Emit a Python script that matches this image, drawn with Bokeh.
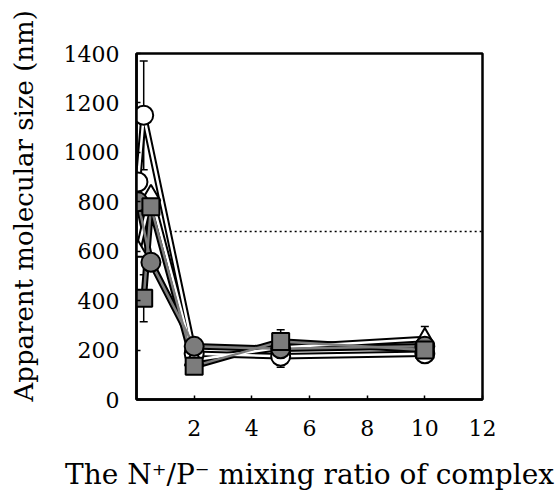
from bokeh.plotting import figure
from bokeh.models import FixedTicker, Whisker, ColumnDataSource
from bokeh.embed import file_html
from bokeh.resources import INLINE

# ---- data ----
x_open_circle = [0.05, 0.25, 2, 5, 10]
y_open_circle = [880, 1150, 185, 175, 185]
e_open_circle = [0, 220, 0, 45, 0]

x_open_tri = [0.05, 0.5, 2, 5, 10]
y_open_tri = [600, 825, 160, 210, 245]
e_open_tri = [0, 0, 0, 0, 50]

x_gray_circle = [0.05, 0.5, 2, 5, 10]
y_gray_circle = [800, 555, 215, 205, 215]
e_gray_circle = [0, 0, 0, 0, 0]

x_gray_square = [0.25, 0.5, 2, 5, 10]
y_gray_square = [410, 780, 135, 235, 200]
e_gray_square = [95, 0, 0, 47, 30]

threshold = 680
x_ticks = [2, 4, 6, 8, 10, 12]
y_ticks = [0, 200, 400, 600, 800, 1000, 1200, 1400]
x_title = "The N\u207a/P\u207b mixing ratio of complex"
y_title = "Apparent molecular size (nm)"

GRAY = "#7c7c7c"
FONT = "DejaVu Serif"

p = figure(width=558, height=493, x_range=(0, 12), y_range=(0, 1400),
           output_backend="svg", toolbar_location=None,
           min_border_left=136, min_border_right=76,
           min_border_top=53, min_border_bottom=91)
p.grid.visible = False
p.outline_line_color = "black"
p.outline_line_width = 2.5
p.background_fill_color = "white"
p.border_fill_color = "white"

for ax in (p.xaxis[0], p.yaxis[0]):
    ax.axis_line_width = 2.5
    ax.axis_line_color = "black"
    ax.major_tick_in = 4
    ax.major_tick_out = 0
    ax.major_tick_line_width = 1.5
    ax.minor_tick_line_color = None
    ax.major_label_text_font = FONT
    ax.major_label_text_font_size = "22px"
    ax.major_label_text_color = "black"
    ax.axis_label_text_font = FONT
    ax.axis_label_text_font_style = "normal"
    ax.axis_label_text_color = "black"

p.xaxis[0].axis_label_text_font_size = "28px"
p.yaxis[0].axis_label_text_font_size = "26px"
p.xaxis[0].ticker = FixedTicker(ticks=x_ticks)
p.yaxis[0].ticker = FixedTicker(ticks=y_ticks)
p.xaxis[0].major_label_standoff = 20
p.yaxis[0].major_label_standoff = 17
p.xaxis[0].axis_label = x_title
p.xaxis[0].axis_label_standoff = 19
# leading no-break spaces push the centred title upward, as in the reference
p.yaxis[0].axis_label = "\u00a0" * 5 + y_title
p.yaxis[0].axis_label_standoff = 22

# dotted threshold line
p.line([1.15, 12], [threshold, threshold], line_color="black",
       line_dash="2 3", line_width=1.5)

series = [
    (x_open_circle, y_open_circle, e_open_circle, "white", "circle"),
    (x_open_tri, y_open_tri, e_open_tri, "white", "triangle"),
    (x_gray_circle, y_gray_circle, e_gray_circle, GRAY, "circle"),
    (x_gray_square, y_gray_square, e_gray_square, GRAY, "square"),
]

# connecting lines as bordered bands
for xs, ys, es, fill, mk in series:
    p.line(xs, ys, line_color="black", line_width=6.5)
for xs, ys, es, fill, mk in series:
    p.line(xs, ys, line_color=fill, line_width=2.5)

# error bars
for xs, ys, es, fill, mk in series:
    xe = [x for x, e in zip(xs, es) if e > 0]
    ye = [y for y, e in zip(ys, es) if e > 0]
    ee = [e for e in es if e > 0]
    if xe:
        src = ColumnDataSource(dict(x=xe, lo=[y - e for y, e in zip(ye, ee)],
                                    hi=[y + e for y, e in zip(ye, ee)]))
        w = Whisker(source=src, base="x", lower="lo", upper="hi",
                    line_color="black", line_width=1.5)
        w.upper_head.size = 8
        w.lower_head.size = 8
        w.upper_head.line_width = 1.5
        w.lower_head.line_width = 1.5
        p.add_layout(w)

# markers
for xs, ys, es, fill, mk in series:
    size = 17 if mk == "square" else 19
    p.scatter(xs, ys, marker=mk, size=size, fill_color=fill,
              line_color="black", line_width=2)

open("out.html", "w").write(file_html(p, INLINE))
